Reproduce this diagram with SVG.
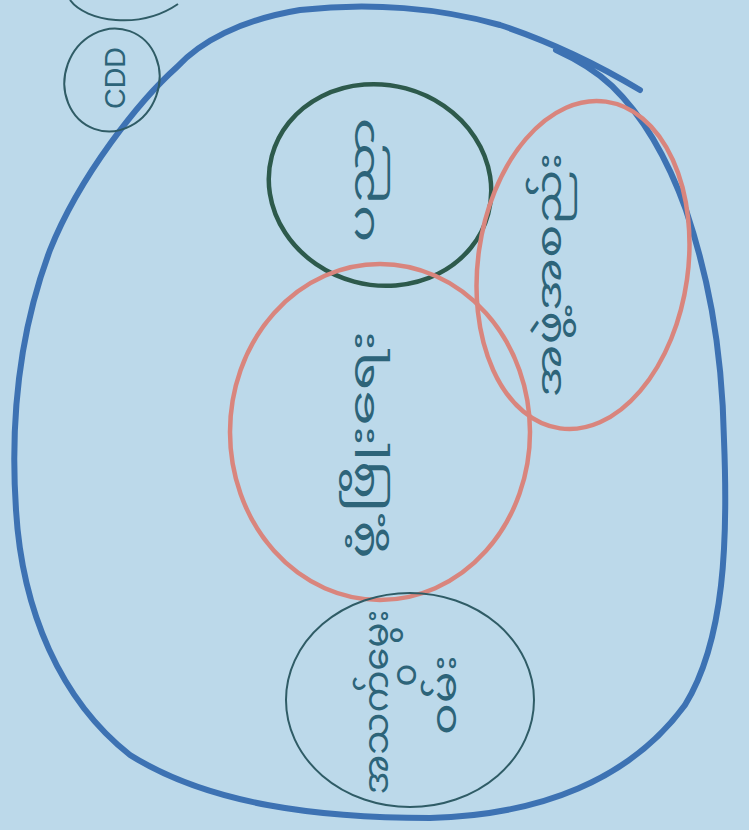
<svg xmlns="http://www.w3.org/2000/svg" width="749" height="830" viewBox="0 0 749 830">
<style>
.bg{fill:#bcd9ea}
.blue{fill:none;stroke:#3d72b3;stroke-width:6;stroke-linecap:round;stroke-linejoin:round}
.green{fill:none;stroke:#2d5a4c;stroke-width:4.5}
.red{fill:none;stroke:#d9857d;stroke-width:4.5}
.thin{fill:none;stroke:#2f5c66;stroke-width:2}
.ink{fill:#2d6479;font-family:"Noto Sans Myanmar","Padauk","Myanmar Text","Noto Sans",sans-serif;font-size:34px;text-anchor:middle;dominant-baseline:central}
.lat{fill:#2d6479;font-family:"Liberation Sans",sans-serif;font-size:30px;text-anchor:middle;dominant-baseline:central}
</style>
<rect class="bg" x="0" y="0" width="749" height="830"/>
<g id="connectors">
<path class="blue" d="M640,90 C610,72 560,45 500,25 C440,8 370,2 300,10 C240,20 200,42 177,67 C140,100 80,175 50,250 C20,330 10,420 16,510 C22,610 60,700 130,755 C210,805 320,818 430,818 C540,815 630,780 685,705 C725,640 728,540 724,440 C722,340 706,270 686,210 C668,160 645,118 612,86 C595,70 578,60 556,50"/>
</g>
<g id="node-top-arc">
<path class="thin" d="M70,0 C86,22 140,30 178,4"/>
</g>
<g id="node-cdd">
<ellipse class="thin" cx="112" cy="80" rx="47" ry="52" transform="rotate(20 112 80)"/>
<text class="lat" transform="translate(114,78) rotate(-90)" textLength="62" lengthAdjust="spacingAndGlyphs">CDD</text>
</g>
<g id="node-green">
<ellipse class="green" cx="380" cy="185" rx="112" ry="100" transform="rotate(15 380 185)"/>
<text class="ink" transform="translate(366,180) rotate(-90)" textLength="125" lengthAdjust="spacingAndGlyphs">ပညာ</text>
</g>
<g id="node-right-red">
<ellipse class="red" cx="583" cy="265" rx="105" ry="165" transform="rotate(8 583 265)"/>
<text class="ink" transform="translate(553,275) rotate(-90)" textLength="245" lengthAdjust="spacingAndGlyphs">အဖွဲ့အစည်း</text>
</g>
<g id="node-middle-red">
<ellipse class="red" cx="380" cy="432" rx="150" ry="168"/>
<text class="ink" transform="translate(366,445) rotate(-90)" textLength="228" lengthAdjust="spacingAndGlyphs">ဖွံ့ဖြိုးရေး</text>
</g>
<g id="node-bottom">
<ellipse class="thin" cx="410" cy="700" rx="124" ry="107"/>
<text class="ink" transform="translate(380,702) rotate(-90)" textLength="185" lengthAdjust="spacingAndGlyphs">အသက်မွေး</text>
<text class="ink" transform="translate(408,675) rotate(-90)">ဝ</text>
<text class="ink" transform="translate(448,695) rotate(-90)" textLength="80" lengthAdjust="spacingAndGlyphs">ဝမ်း</text>
</g>
</svg>
